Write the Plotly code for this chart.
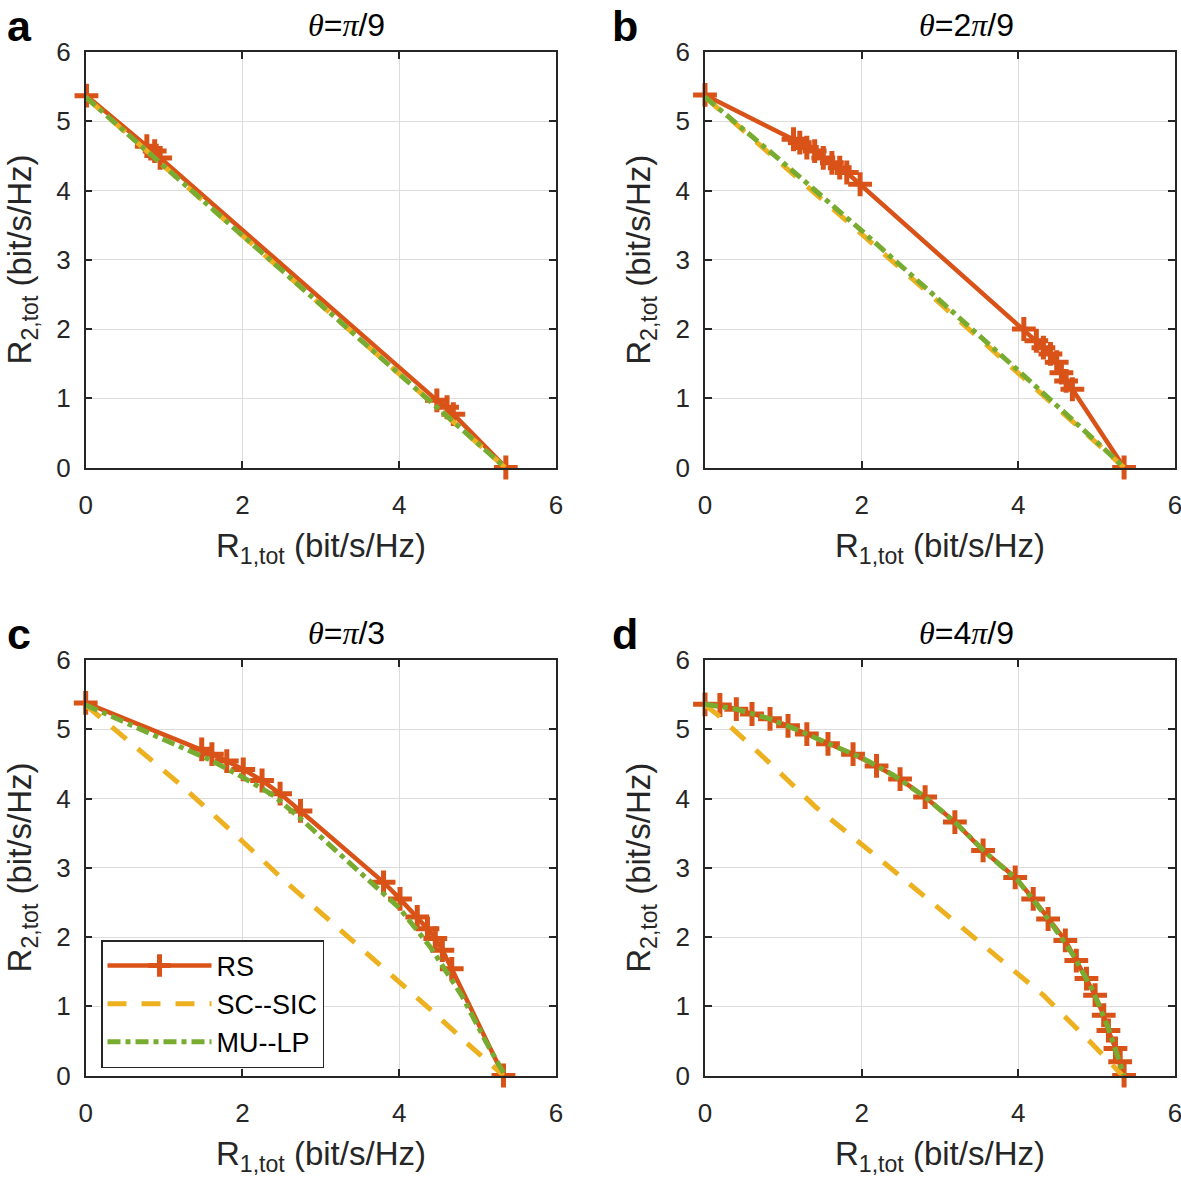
import plotly.graph_objects as go

# ---------------- data ----------------
# panel a: theta = pi/9
a_rs_x = [0.01, 0.78, 0.88, 0.95, 4.48, 4.61, 4.69, 5.36]
a_rs_y = [5.37, 4.64, 4.57, 4.47, 0.97, 0.87, 0.77, 0.0]
a_sc_x = [0.0, 1.0, 2.0, 3.0, 4.0, 5.0, 5.35]
a_sc_y = [5.35, 4.35, 3.35, 2.35, 1.35, 0.35, 0.0]
a_mu_x = [0.0, 1.0, 2.0, 3.0, 4.0, 5.0, 5.35]
a_mu_y = [5.35, 4.35, 3.37, 2.36, 1.35, 0.35, 0.0]

# panel b: theta = 2pi/9
b_rs_x = [0.0, 1.13, 1.21, 1.30, 1.40, 1.51, 1.62, 1.72, 1.81, 1.98,
          4.07, 4.23, 4.32, 4.41, 4.49, 4.55, 4.61, 4.69, 5.35]
b_rs_y = [5.38, 4.74, 4.69, 4.62, 4.57, 4.47, 4.40, 4.33, 4.26, 4.09,
          2.00, 1.83, 1.73, 1.64, 1.52, 1.37, 1.25, 1.13, 0.0]
b_sc_x = [0.0, 1.0, 2.0, 3.0, 4.0, 5.0, 5.35]
b_sc_y = [5.35, 4.37, 3.37, 2.37, 1.36, 0.36, 0.0]
b_mu_x = [0.0, 1.0, 2.0, 3.0, 4.0, 5.0, 5.35]
b_mu_y = [5.35, 4.40, 3.42, 2.42, 1.40, 0.37, 0.0]

# panel c: theta = pi/3
c_rs_x = [0.0, 1.48, 1.61, 1.80, 2.01, 2.25, 2.48, 2.74,
          3.80, 4.01, 4.23, 4.36, 4.46, 4.55, 4.67, 5.33]
c_rs_y = [5.38, 4.71, 4.64, 4.54, 4.42, 4.26, 4.07, 3.82,
          2.79, 2.55, 2.29, 2.12, 1.98, 1.81, 1.54, 0.0]
c_sc_x = [0.0, 0.5, 1.2, 1.85, 2.5, 3.15, 3.75, 4.4, 4.95, 5.33]
c_sc_y = [5.35, 4.87, 4.21, 3.54, 2.85, 2.20, 1.61, 0.95, 0.38, 0.0]
c_mu_x = [0.0, 0.4, 0.8, 1.2, 1.6, 2.0, 2.4, 2.8, 3.2, 3.6, 4.0, 4.4, 4.8, 5.1, 5.35]
c_mu_y = [5.35, 5.15, 4.95, 4.76, 4.55, 4.31, 4.04, 3.65, 3.24, 2.85, 2.42, 1.85, 1.15, 0.50, 0.0]

# panel d: theta = 4pi/9
d_rs_x = [0.0, 0.19, 0.40, 0.60, 0.83, 1.06, 1.30, 1.57, 1.89, 2.19, 2.49, 2.81, 3.19,
          3.55, 3.96, 4.19, 4.38, 4.60, 4.74, 4.87, 4.98, 5.09, 5.15, 5.24, 5.30, 5.35]
d_rs_y = [5.36, 5.35, 5.29, 5.22, 5.15, 5.05, 4.93, 4.79, 4.64, 4.47, 4.28, 4.02, 3.66,
          3.25, 2.86, 2.55, 2.26, 1.95, 1.66, 1.40, 1.16, 0.87, 0.65, 0.39, 0.20, 0.0]
d_sc_x = [0.0, 0.15, 0.8, 1.42, 2.15, 2.87, 3.6, 4.32, 4.94, 5.33]
d_sc_y = [5.35, 5.22, 4.54, 3.87, 3.20, 2.53, 1.85, 1.16, 0.46, 0.0]
d_mu_x = [0.0, 0.4, 0.8, 1.2, 1.6, 2.0, 2.4, 2.8, 3.2, 3.6, 4.0, 4.4, 4.7, 4.95, 5.15, 5.3, 5.35]
d_mu_y = [5.36, 5.29, 5.16, 4.98, 4.78, 4.59, 4.34, 4.03, 3.65, 3.20, 2.81, 2.23, 1.74, 1.23, 0.68, 0.20, 0.0]

series_names = ["RS", "SC--SIC", "MU--LP"]
SERIF = "font-family:'Liberation Serif','Times New Roman',serif"
panel_titles = [
    "<span style=\"%s\"><i>θ</i></span>=<span style=\"%s\"><i>π</i></span>/9" % (SERIF, SERIF),
    "<span style=\"%s\"><i>θ</i></span>=2<span style=\"%s\"><i>π</i></span>/9" % (SERIF, SERIF),
    "<span style=\"%s\"><i>θ</i></span>=<span style=\"%s\"><i>π</i></span>/3" % (SERIF, SERIF),
    "<span style=\"%s\"><i>θ</i></span>=4<span style=\"%s\"><i>π</i></span>/9" % (SERIF, SERIF),
]
panel_letters = ["a", "b", "c", "d"]
x_ticks = [0, 2, 4, 6]
y_ticks = [0, 1, 2, 3, 4, 5, 6]

panels = [
    (a_rs_x, a_rs_y, a_sc_x, a_sc_y, a_mu_x, a_mu_y),
    (b_rs_x, b_rs_y, b_sc_x, b_sc_y, b_mu_x, b_mu_y),
    (c_rs_x, c_rs_y, c_sc_x, c_sc_y, c_mu_x, c_mu_y),
    (d_rs_x, d_rs_y, d_sc_x, d_sc_y, d_mu_x, d_mu_y),
]

# ---------------- styling ----------------
W, H = 1181, 1185
C_RS = "#D95319"
C_SC = "#EDB120"
C_MU = "#77AC30"
AX = "#262626"
FONT = "Liberation Sans, Arial, Helvetica, sans-serif"


def px(v):
    return v / W


def py(v):
    return 1 - v / H


# pixel boxes of plot areas on the page (left, right, top, bottom)
boxes = [
    (85.7, 556.0, 52.0, 467.5),
    (705.0, 1175.0, 52.0, 467.5),
    (85.7, 556.0, 660.0, 1075.5),
    (705.0, 1175.0, 660.0, 1075.5),
]

fig = go.Figure()

for i, (rx, ry, sx, sy, mx, my) in enumerate(panels):
    n = "" if i == 0 else str(i + 1)
    xa, ya = "x" + n, "y" + n
    show = (i == 2)
    fig.add_trace(go.Scatter(
        x=rx, y=ry, mode="lines+markers", name=series_names[0],
        xaxis=xa, yaxis=ya, showlegend=show, legendgroup="rs",
        line=dict(color=C_RS, width=4.5),
        marker=dict(symbol="cross-thin", size=17, color=C_RS,
                    line=dict(color=C_RS, width=5)),
        cliponaxis=False))
    fig.add_trace(go.Scatter(
        x=sx, y=sy, mode="lines", name=series_names[1],
        xaxis=xa, yaxis=ya, showlegend=show, legendgroup="sc",
        line=dict(color=C_SC, width=5, dash="19px,15px")))
    fig.add_trace(go.Scatter(
        x=mx, y=my, mode="lines", name=series_names[2],
        xaxis=xa, yaxis=ya, showlegend=show, legendgroup="mu",
        line=dict(color=C_MU, width=5, dash="13px,5px,5px,5px")))

    l, r, t, b = boxes[i]
    common = dict(
        showline=True, linecolor=AX, linewidth=1.5, mirror="ticks",
        ticks="inside", ticklen=7, tickwidth=1.5, tickcolor=AX,
        showgrid=True, gridcolor="#dcdcdc", gridwidth=1.4,
        zeroline=False, range=[0, 6], fixedrange=True, automargin=False,
        ticklabeloverflow="allow",
        tickfont=dict(family=FONT, size=26, color=AX),
    )
    fig.layout["xaxis" + n] = dict(
        common, domain=[px(l), px(r)], anchor=ya,
        tickvals=x_ticks, ticktext=[str(v) for v in x_ticks],
        ticklabelstandoff=14)
    fig.layout["yaxis" + n] = dict(
        common, domain=[py(b), py(t)], anchor=xa,
        tickvals=y_ticks, ticktext=[str(v) for v in y_ticks],
        ticklabelstandoff=8)

    cx = (l + r) / 2
    cy = (t + b) / 2
    # panel title
    fig.add_annotation(
        text=panel_titles[i], xref="paper", yref="paper",
        x=px(cx + 26), y=py(t - 27), xanchor="center", yanchor="middle",
        showarrow=False, font=dict(family=FONT, size=32, color="#000"))
    # panel letter
    fig.add_annotation(
        text="<b>%s</b>" % panel_letters[i], xref="paper", yref="paper",
        x=px(l - 81) if i % 2 == 0 else px(l - 95),
        y=py(t - 26), xanchor="left", yanchor="middle",
        showarrow=False, font=dict(family=FONT, size=43, color="#000"))
    # x axis title
    fig.add_annotation(
        text="R<sub>1,tot</sub> (bit/s/Hz)", xref="paper", yref="paper",
        x=px(cx), y=py(b + 80), xanchor="center", yanchor="middle",
        showarrow=False, font=dict(family=FONT, size=33, color=AX))
    # y axis title
    fig.add_annotation(
        text="R<sub>2,tot</sub> (bit/s/Hz)", xref="paper", yref="paper",
        x=px(l - 64), y=py(cy), xanchor="center", yanchor="middle",
        textangle=-90, showarrow=False, font=dict(family=FONT, size=33, color=AX))

fig.update_layout(
    width=W, height=H,
    margin=dict(l=0, r=0, t=0, b=0, autoexpand=False),
    paper_bgcolor="white", plot_bgcolor="white",
    showlegend=True,
    legend=dict(
        x=px(101), y=py(940), xanchor="left", yanchor="top",
        bgcolor="white", bordercolor="#262626", borderwidth=1.5,
        font=dict(family=FONT, size=27, color="#000"),
        itemwidth=104, tracegroupgap=0,
    ),
)

fig.write_html("out.html", config={"displayModeBar": False},
               post_script="document.body.style.margin='0';")
